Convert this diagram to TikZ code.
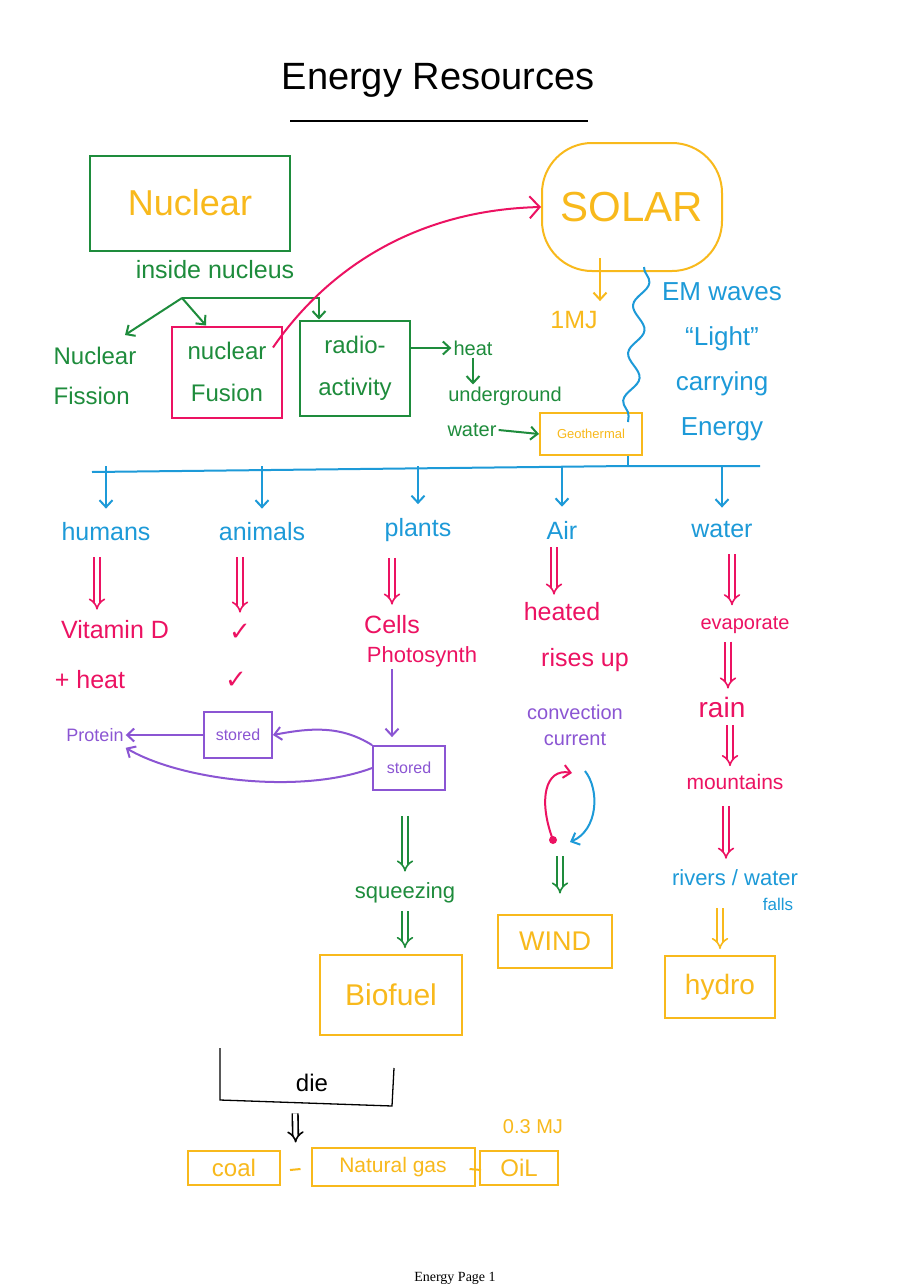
\documentclass[tikz,border=0pt]{standalone}
\usepackage{fontspec}
\setmainfont{Liberation Sans}
\newfontfamily\pagefont{Liberation Serif}
\newfontfamily\tickfont{DejaVu Sans}
\usepackage{tikz}
\usetikzlibrary{arrows.meta, positioning, calc, decorations.pathmorphing}
\definecolor{InkGreen}{HTML}{1E8C3C}
\definecolor{InkGold}{HTML}{F8B91C}
\definecolor{InkPink}{HTML}{EC1262}
\definecolor{InkBlue}{HTML}{1D9AD8}
\definecolor{InkPurple}{HTML}{8B55D3}
\tikzset{
  titleink/.style={font=\fontsize{38}{42}\selectfont, inner sep=2pt},
  bigink/.style={font=\fontsize{36}{40}\selectfont, inner sep=2pt, align=center},
  midink/.style={font=\fontsize{25}{44}\selectfont, inner sep=2pt, align=center},
  smallink/.style={font=\fontsize{20}{26}\selectfont, inner sep=2pt, align=center},
  tinyink/.style={font=\fontsize{15}{18}\selectfont, inner sep=2pt, align=center},
  greenbox/.style={rectangle, draw=InkGreen, line width=2pt, align=center},
  goldbox/.style={rectangle, draw=InkGold, line width=2pt, align=center, text=InkGold},
  pinkbox/.style={rectangle, draw=InkPink, line width=2pt, align=center},
  purplebox/.style={rectangle, draw=InkPurple, line width=1.8pt, align=center, text=InkPurple},
  inkarrow/.style={-{Straight Barb[length=7pt,width=13pt]}, line width=2pt},
  dblarrow/.style={double, double distance=4pt, line width=1.6pt, -{Implies}, shorten <=14pt, shorten >=9pt}
}

\begin{document}
\begin{tikzpicture}[x=1pt, y=-1pt]
  \fill[white] (0,0) rectangle (910,1287);
  \useasboundingbox (0,0) rectangle (910,1287);

  \node[titleink] (title) at (438,80) {Energy Resources};
  \draw[line width=1.2pt] (290,121) -- (588,121);

  % nuclear side
  \node[greenbox, bigink, text=InkGold, minimum width=200pt, minimum height=95pt] (nuclear) at (190,203) {Nuclear};
  \node[midink, text=InkGreen] (inside) at (215,270) {inside nucleus};
  \node[midink, text=InkGreen, align=left, font=\fontsize{24}{40}\selectfont] (fission) at (95,376) {Nuclear\\Fission};
  \node[pinkbox, text=InkGreen, font=\fontsize{24}{42}\selectfont, minimum width=110pt, minimum height=91pt] (fusion) at (227,372) {nuclear\\Fusion};
  \node[greenbox, text=InkGreen, font=\fontsize{24}{42}\selectfont, minimum width=110pt, minimum height=95pt] (radio) at (355,368) {radio-\\activity};
  \node[smallink, text=InkGreen] (heat) at (473,348) {heat};
  \node[smallink, text=InkGreen] (underground) at (505,396) {underground};
  \node[smallink, text=InkGreen] (uwater) at (472,430) {water};
  \node[goldbox, font=\fontsize{13}{15}\selectfont, minimum width=102pt, minimum height=42pt] (geo) at (591,434) {Geothermal};

  % solar side
  \node[goldbox, font=\fontsize{42}{46}\selectfont, minimum width=180pt, minimum height=128pt, rounded corners=50pt] (solar) at (632,207) {SOLAR};
  \node[midink, text=InkGold] (onemj) at (574,320) {1MJ};
  \node[midink, text=InkBlue, font=\fontsize{26}{45}\selectfont] (emwaves) at (722,362) {EM waves\\“Light”\\carrying\\Energy};

  \coordinate (split) at (182,298);
  \draw[inkarrow, InkGreen] (split) -- ($(fission.north)+(30,-10)$);
  \draw[inkarrow, InkGreen] (split) -- ($(fusion.north west)+(35,0)$);
  \draw[inkarrow, InkGreen] (split) -| ($(radio.north west)+(20,0)$);
  \draw[inkarrow, InkGreen] (radio.east |- heat) -- (heat.west);
  \draw[inkarrow, InkGreen] (heat.south) -- (heat.south |- underground.north);
  \draw[inkarrow, InkGreen] (uwater.east) -- (geo.west);
  \draw[InkPink, line width=2pt, -{Straight Barb[length=10pt,width=22pt]}] ($(fusion.north east)+(-10,22)$) .. controls (330,265) and (420,210) .. (solar.west);
  \draw[inkarrow, InkGold] ($(solar.south)+(-32,-14)$) -- ($(onemj.north)+(26,-8)$);
  \draw[InkBlue, line width=2pt, decorate, decoration={snake, amplitude=7pt, segment length=48pt}] ($(solar.south)+(12,-5)$) -- ($(geo.north east)+(-15,10)$);

  % sun energy goes to
  \coordinate (hub) at (628,466);
  \node[midink, text=InkBlue] (humans) at (106,532) {humans};
  \node[midink, text=InkBlue] (animals) at (262,532) {animals};
  \node[midink, text=InkBlue] (plants) at (418,530) {plants};
  \node[midink, text=InkBlue] (air) at (562,530) {Air};
  \node[midink, text=InkBlue] (water) at (722,530) {water};
  \draw[InkBlue, line width=2pt] (geo.south -| hub) -- (hub);
  \draw[InkBlue, line width=2pt] ($(humans.north |- hub)+(-14,6)$) -- (hub) -- ($(water.north |- hub)+(38,0)$);
  \foreach \cat in {humans, animals, plants, air, water}
    \draw[inkarrow, InkBlue, shorten >=12pt] (\cat.north |- hub) -- (\cat.north);

  \node[midink, text=InkPink] (vitamin) at (115,630) {Vitamin D};
  \node[midink, text=InkPink] (plusheat) at (90,680) {+ heat};
  \node[text=InkPink, font=\tickfont\fontsize{26}{30}\selectfont, inner sep=2pt] (tickA) at (240,632) {✓};
  \node[text=InkPink, font=\tickfont\fontsize{26}{30}\selectfont, inner sep=2pt] (tickB) at (236,680) {✓};
  \node[midink, text=InkPink] (cells) at (392,625) {Cells};
  \node[smallink, font=\fontsize{22}{26}\selectfont, text=InkPink] (photo) at (422,657) {Photosynth};
  \draw[dblarrow, InkPink] ($(vitamin.north |- humans.south)+(-18,0)$) -- ($(vitamin.north)+(-18,0)$);
  \draw[dblarrow, InkPink] (tickA.north |- animals.south) -- (tickA.north);
  \draw[dblarrow, InkPink] (cells.north |- plants.south) -- (cells.north);

  \node[smallink, font=\fontsize{18}{22}\selectfont, text=InkPurple] (protein) at (95,735) {Protein};
  \node[purplebox, font=\fontsize{16}{18}\selectfont, minimum width=68pt, minimum height=46pt] (storedA) at (238,735) {stored};
  \node[purplebox, font=\fontsize{16}{18}\selectfont, minimum width=72pt, minimum height=44pt] (storedB) at (409,768) {stored};
  \draw[inkarrow, InkPurple, shorten >=8pt] (photo.south -| cells.south) -- (storedB.north -| cells.south);
  \draw[inkarrow, InkPurple] (storedA.west) -- (protein.east);
  \draw[inkarrow, InkPurple] (storedB.north west) .. controls (340,725) and (310,728) .. (storedA.east);
  \draw[inkarrow, InkPurple] (storedB.west) .. controls (300,795) and (180,780) .. ($(protein.south east)+(0,4)$);

  \node[smallink, font=\fontsize{22}{26}\selectfont, text=InkGreen] (squeeze) at (405,893) {squeezing};
  \node[goldbox, font=\fontsize{30}{34}\selectfont, minimum width=142pt, minimum height=80pt] (biofuel) at (391,995) {Biofuel};
  \draw[dblarrow, InkGreen, shorten <=25pt] (storedB.south -| squeeze.north) -- (squeeze.north);
  \draw[dblarrow, InkGreen, shorten <=6pt, shorten >=6pt] (squeeze.south) -- (squeeze.south |- biofuel.north);

  % air column
  \node[midink, text=InkPink] (heated) at (562,612) {heated};
  \node[midink, text=InkPink] (rises) at (585,660) {rises up};
  \node[smallink, text=InkPurple] (convection) at (575,725) {convection\\current};
  \node[goldbox, font=\fontsize{27}{30}\selectfont, minimum width=114pt, minimum height=53pt] (wind) at (555,941) {WIND};
  \draw[dblarrow, InkPink, shorten <=6pt, shorten >=6pt] ($(air.south)+(-8,0)$) -- ($(heated.north)+(-8,0)$);
  \coordinate (cycleL) at (553,840);
  \coordinate (cycleTop) at (572,773);
  \coordinate (cycleR) at (585,771);
  \coordinate (cycleBot) at (570,842);
  \coordinate (cycleOut) at (560,850);
  \draw[inkarrow, InkPink] (cycleL) .. controls (538,800) and (545,768) .. (cycleTop);
  \fill[InkPink] (cycleL) circle (4pt);
  \draw[inkarrow, InkBlue] (cycleR) .. controls (600,790) and (598,830) .. (cycleBot);
  \draw[dblarrow, InkGreen, shorten <=6pt, shorten >=20pt] (cycleOut) -- (cycleOut |- wind.north);

  % water column
  \node[smallink, text=InkPink] (evaporate) at (745,625) {evaporate};
  \node[midink, text=InkPink, font=\fontsize{28}{30}\selectfont] (rain) at (722,707) {rain};
  \node[smallink, text=InkPink, font=\fontsize{21}{24}\selectfont] (mountains) at (735,782) {mountains};
  \node[smallink, text=InkBlue, font=\fontsize{22}{24}\selectfont] (rivers) at (735,878) {rivers / water};
  \node[tinyink, text=InkBlue, font=\fontsize{17}{20}\selectfont] (falls) at (778,904) {falls};
  \node[goldbox, font=\fontsize{28}{30}\selectfont, minimum width=110pt, minimum height=62pt] (hydro) at (720,987) {hydro};
  \draw[dblarrow, InkPink] ($(water.south)+(10,0)$) -- ($(water.south |- evaporate.north)+(10,0)$);
  \draw[dblarrow, InkPink, shorten <=6pt, shorten >=6pt] ($(rain.north |- evaporate.south)+(6,0)$) -- ($(rain.north)+(6,0)$);
  \draw[dblarrow, InkPink, shorten <=6pt, shorten >=6pt] ($(rain.south)+(8,0)$) -- ($(rain.south |- mountains.north)+(8,0)$);
  \draw[dblarrow, InkPink] ($(mountains.south)+(-9,0)$) -- ($(mountains.south |- rivers.north)+(-9,0)$);
  \draw[dblarrow, InkGold, shorten <=20pt, shorten >=6pt] (rivers.south -| hydro.north) -- (hydro.north);

  % fossil fuels
  \node[font=\fontsize{24}{28}\selectfont] (die) at (312,1083) {die};
  \draw[line width=1.3pt] ($(die)+(-92,-35)$) -- ($(die)+(-92,17)$) -- ($(die)+(80,23)$) -- ($(die)+(82,-15)$);
  \node[goldbox, font=\fontsize{24}{28}\selectfont, minimum width=92pt, minimum height=34pt] (coal) at (234,1168) {coal};
  \node[goldbox, font=\fontsize{21}{24}\selectfont, minimum width=163pt, minimum height=38pt] (gas) at (393,1167) {Natural gas};
  \node[goldbox, font=\fontsize{24}{28}\selectfont, minimum width=78pt, minimum height=34pt] (oil) at (519,1168) {OiL};
  \node[smallink, text=InkGold] (pointthree) at (533,1127) {0.3 MJ};
  \draw[dblarrow, black, shorten <=6pt, shorten >=6pt] ($(die.south)+(-17,12)$) -- ($(coal.north east)!0.5!(gas.north west)$);
  \draw[InkGold, line width=2pt] ($(coal.east)+(9,2)$) -- ($(gas.west)+(-10,2)$);
  \draw[InkGold, line width=2pt] ($(gas.east)+(-6,2)$) -- ($(oil.west)+(2,2)$);

  \node[font=\pagefont\fontsize{14}{16}\selectfont] (footer) at (455,1278) {Energy Page 1};
\end{tikzpicture}
\end{document}
